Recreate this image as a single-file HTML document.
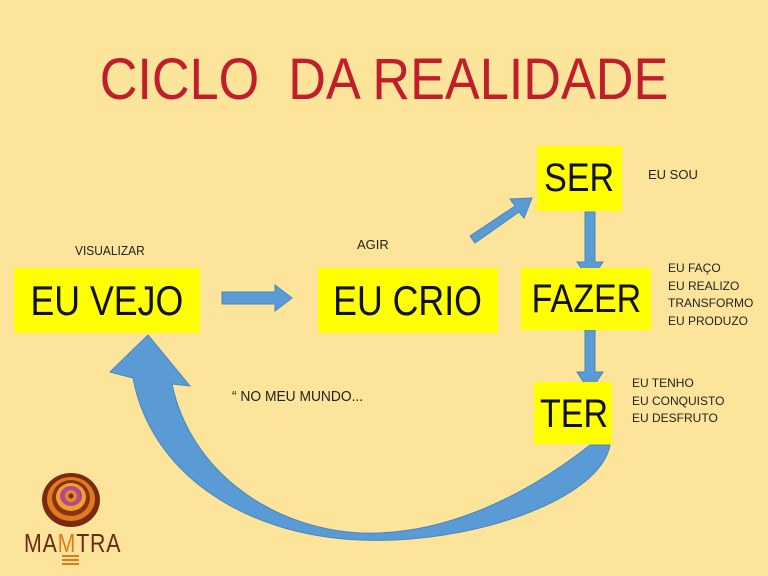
<!DOCTYPE html>
<html><head><meta charset="utf-8"><style>
body{margin:0}
#c{position:relative;width:768px;height:576px;background:#FDE49B;overflow:hidden;font-family:"Liberation Sans",sans-serif;}
.b{position:absolute;background:#FFFF00;color:#111;text-align:center;font-family:"Liberation Sans",sans-serif;}
.b span{display:inline-block;transform:scaleX(0.85)}
.t{position:absolute;color:#222;white-space:nowrap}
svg{position:absolute;left:0;top:0}
</style></head><body><div id="c">
<div class="t" style="left:0;width:768px;text-align:center;top:46px;font-size:58px;color:#C01E2A;transform:scaleX(0.9)">CICLO&nbsp; DA REALIDADE</div>
<svg width="768" height="576">
<g fill="#5A9BD5" stroke="#4A86C0" stroke-width="1">
<polygon points="222,292 275,292 275,285 292,298 275,311 275,304 222,304"/>
<polygon points="470,236 515,206 510,199 532,198 524,218 519,212 475,243"/>
<polygon points="585,212 595,212 595,262 603,262 590,282 577,262 585,262"/>
<polygon points="585,330 595,330 595,372 603,372 590,392 577,372 585,372"/>
<path d="M610,445 C600,500 470,545 360,540 C240,535 150,470 133,378 L110,372 L148,335 L190,386 L172,384 C190,470 270,528 360,533 C440,536 520,500 590,445 Z" fill="#5B9BD5"/>
</g>
</svg>
<div class="b" style="left:537px;top:146px;width:85px;height:65px;font-size:40px;line-height:65px"><span>SER</span></div>
<div class="b" style="left:14px;top:268px;width:186px;height:65px;font-size:42px;line-height:65px"><span>EU VEJO</span></div>
<div class="b" style="left:318px;top:268px;width:180px;height:65px;font-size:42px;line-height:65px"><span>EU CRIO</span></div>
<div class="b" style="left:521px;top:268px;width:130px;height:62px;font-size:40px;line-height:62px"><span>FAZER</span></div>
<div class="b" style="left:534px;top:382px;width:78px;height:62px;font-size:40px;line-height:64px"><span>TER</span></div>
<div class="t" style="left:75px;top:243px;font-size:13px;transform:scaleX(0.92);transform-origin:left">VISUALIZAR</div>
<div class="t" style="left:357px;top:237px;font-size:13px">AGIR</div>
<div class="t" style="left:648px;top:167px;font-size:13px">EU SOU</div>
<div class="t" style="left:668px;top:260px;font-size:12px;line-height:17.5px">EU FAÇO<br>EU REALIZO<br>TRANSFORMO<br>EU PRODUZO</div>
<div class="t" style="left:632px;top:375px;font-size:12px;line-height:17.5px">EU TENHO<br>EU CONQUISTO<br>EU DESFRUTO</div>
<div class="t" style="left:232px;top:388px;font-size:15px;transform:scaleX(0.92);transform-origin:left">“ NO MEU MUNDO...</div>
<svg width="768" height="576">
<ellipse cx="71" cy="500" rx="29" ry="27" fill="#7A2A10"/>
<ellipse cx="71" cy="499" rx="24" ry="22" fill="#E07A1A"/>
<ellipse cx="71" cy="498" rx="19" ry="18" fill="#8A3212"/>
<ellipse cx="71" cy="497" rx="15" ry="14" fill="#F0A030"/>
<ellipse cx="71" cy="496" rx="11" ry="10" fill="#B04A8A"/>
<ellipse cx="71" cy="496" rx="6" ry="6" fill="#E08A2A"/>
<circle cx="71" cy="496" r="2.5" fill="#7A2A10"/>
<rect x="62" y="555" width="17" height="2" fill="#E07A1A"/>
<rect x="62" y="559" width="17" height="2" fill="#E07A1A"/>
<rect x="62" y="563" width="17" height="2" fill="#E07A1A"/>
</svg>
<div class="t" style="left:24px;top:528px;font-size:26px;color:#6A2A10;letter-spacing:1px;transform:scaleX(0.82);transform-origin:left">MA<span style="color:#E07A1A">M</span>TRA</div>
</div></body></html>
